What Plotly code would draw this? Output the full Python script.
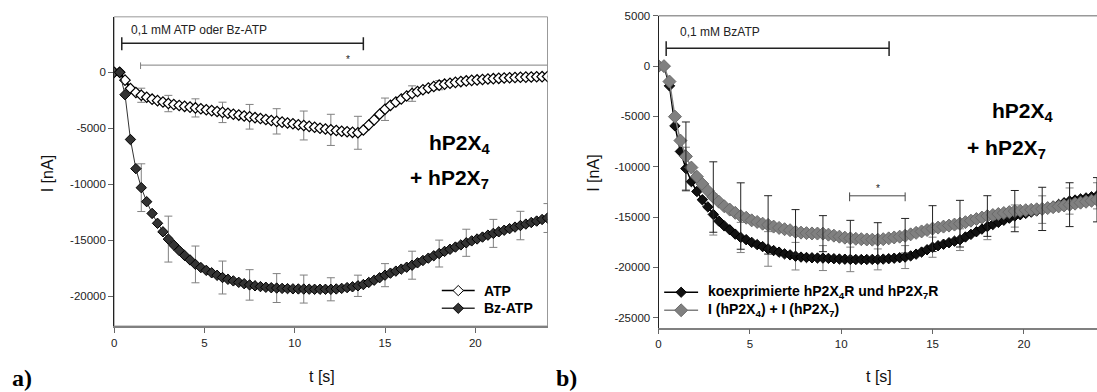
import plotly.graph_objects as go

# ---------------- data ----------------
t = [0.0, 0.3, 0.6, 0.9, 1.2, 1.5, 1.8, 2.1, 2.4, 2.7,
     3.0, 3.3, 3.6, 3.9, 4.2, 4.5, 4.8, 5.1, 5.4, 5.7,
     6.0, 6.3, 6.6, 6.9, 7.2, 7.5, 7.8, 8.1, 8.4, 8.7,
     9.0, 9.3, 9.6, 9.9, 10.2, 10.5, 10.8, 11.1, 11.4, 11.7,
     12.0, 12.3, 12.6, 12.9, 13.2, 13.5, 13.8, 14.1, 14.4, 14.7,
     15.0, 15.3, 15.6, 15.9, 16.2, 16.5, 16.8, 17.1, 17.4, 17.7,
     18.0, 18.3, 18.6, 18.9, 19.2, 19.5, 19.8, 20.1, 20.4, 20.7,
     21.0, 21.3, 21.6, 21.9, 22.2, 22.5, 22.8, 23.1, 23.4, 23.7,
     24.0]

# panel a)
atp = [0, 0, -700, -1450, -1800, -2050, -2230, -2400, -2530, -2650,
       -2790, -2880, -2960, -3040, -3110, -3180, -3260, -3340, -3420, -3500,
       -3580, -3660, -3740, -3820, -3900, -3970, -4050, -4130, -4210, -4300,
       -4380, -4450, -4530, -4600, -4680, -4750, -4830, -4910, -4990, -5060,
       -5140, -5200, -5260, -5310, -5360, -5400, -5150, -4700, -4250, -3750,
       -3300, -2950, -2650, -2380, -2120, -1900, -1720, -1560, -1410, -1270,
       -1150, -1060, -980, -900, -830, -770, -720, -680, -640, -600,
       -570, -540, -510, -490, -470, -450, -430, -420, -400, -390,
       -380]
atp_err = [630, 730, 810, 910, 1100, 1130, 1290, 1390, 1470, 1000, 690, 410, 250, 200, 180, 170]

bzatp = [0, 0, -2000, -6000, -8600, -10300, -11550, -12600, -13480, -14240,
         -14890, -15420, -15910, -16350, -16750, -17150, -17430, -17680, -17900, -18120,
         -18320, -18480, -18620, -18750, -18870, -18980, -19060, -19130, -19190, -19230,
         -19260, -19290, -19310, -19330, -19340, -19350, -19360, -19370, -19370, -19370,
         -19370, -19340, -19290, -19220, -19150, -19060, -18950, -18760, -18560, -18340,
         -18110, -17930, -17750, -17570, -17400, -17220, -17010, -16800, -16590, -16380,
         -16180, -15990, -15800, -15600, -15410, -15220, -15050, -14880, -14710, -14540,
         -14380, -14240, -14100, -13960, -13820, -13680, -13550, -13410, -13280, -13140,
         -13010]
bzatp_err = [2130, 2050, 1640, 1470, 1360, 1290, 1250, 1030, 950, 1030, 1250, 1200, 1210, 1250, 1270, 1290]

# panel b)
koexp = [0, 0, -1960, -5940, -8480, -10180, -11480, -12460, -13280, -13990,
         -14740, -15390, -15880, -16270, -16700, -17030, -17250, -17520, -17740, -17940,
         -18170, -18330, -18490, -18660, -18760, -18890, -18980, -19020, -19050, -19070,
         -19080, -19110, -19140, -19170, -19190, -19210, -19220, -19220, -19220, -19210,
         -19210, -19180, -19140, -19090, -19040, -18980, -18860, -18690, -18480, -18250,
         -18000, -17850, -17700, -17550, -17400, -17250, -16980, -16720, -16460, -16200,
         -15950, -15740, -15530, -15320, -15110, -14900, -14770, -14640, -14510, -14390,
         -14260, -14090, -13920, -13750, -13580, -13410, -13310, -13200, -13100, -12990,
         -12890]
koexp_err = [2120, 2050, 1500, 1720, 1370, 1240, 1220, 1040, 1140, 1000, 1080, 1300, 1100, 1370, 1300, 1300]

summe = [0, 0, -1530, -5020, -7400, -8970, -10080, -10990, -11710, -12390,
         -13010, -13470, -13930, -14260, -14580, -14900, -15070, -15330, -15490, -15660,
         -15780, -15950, -16080, -16210, -16310, -16470, -16550, -16600, -16630, -16640,
         -16650, -16750, -16850, -16950, -17050, -17120, -17160, -17200, -17230, -17250,
         -17250, -17200, -17120, -17030, -16950, -16860, -16720, -16570, -16430, -16290,
         -16150, -16050, -15950, -15850, -15750, -15660, -15510, -15360, -15200, -15050,
         -14900, -14800, -14700, -14600, -14510, -14410, -14370, -14320, -14280, -14230,
         -14190, -14110, -14020, -13940, -13850, -13770, -13670, -13570, -13480, -13380,
         -13280]
summe_err = [3420, 3500, 3300, 2900, 2210, 1790, 1790, 1690, 1720, 2280, 2320, 2020, 2050, 2150, 2180, 2200]

ERR_STEP = 5  # error bars on every 5th sample

x_ticks = [0, 5, 10, 15, 20]
y_ticks_a = [0, -5000, -10000, -15000, -20000]
y_ticks_b = [5000, 0, -5000, -10000, -15000, -20000, -25000]

legend_a = ["ATP", "Bz-ATP"]
legend_b = ["koexprimierte hP2X<sub>4</sub>R und hP2X<sub>7</sub>R",
            "I (hP2X<sub>4</sub>) + I (hP2X<sub>7</sub>)"]

# stimulation / significance bars (time in s)
stim_a = (0.42, 13.8)
sig_a = (1.46, 24.0)
stim_b = (0.42, 12.62)
sig_b = (10.46, 13.5)

FONT = "Arial, Liberation Sans, sans-serif"
W, H = 1097, 392
px = lambda v: v / W
py = lambda v: 1 - v / H

fig = go.Figure()


def err_trace(x, y, err, color, xa, ya):
    return go.Scatter(
        x=x[ERR_STEP::ERR_STEP], y=y[ERR_STEP::ERR_STEP], mode="markers",
        marker=dict(size=1, color="rgba(0,0,0,0)"),
        error_y=dict(type="data", array=err, color=color, thickness=1, width=4),
        showlegend=False, hoverinfo="skip", xaxis=xa, yaxis=ya)


STY = {
    "atp": dict(line=dict(color="#000", width=2.5),
                marker=dict(symbol="diamond", size=8, color="white",
                            line=dict(color="#000", width=1.2))),
    "bz": dict(line=dict(color="#333", width=1),
               marker=dict(symbol="diamond", size=8, color="#333",
                           line=dict(color="#000", width=1))),
    "ko": dict(line=dict(color="#000", width=1.5),
               marker=dict(symbol="diamond", size=8, color="#111",
                           line=dict(color="#000", width=1))),
    "sum": dict(line=dict(color="#808080", width=1.5),
                marker=dict(symbol="diamond", size=10, color="#808080",
                            line=dict(color="#6a6a6a", width=1))),
}

# panel a
fig.add_trace(err_trace(t, atp, atp_err, "#808080", "x", "y"))
fig.add_trace(err_trace(t, bzatp, bzatp_err, "#808080", "x", "y"))
fig.add_trace(go.Scatter(x=t, y=atp, name=legend_a[0], mode="lines+markers",
                         xaxis="x", yaxis="y", showlegend=False, **STY["atp"]))
fig.add_trace(go.Scatter(x=t, y=bzatp, name=legend_a[1], mode="lines+markers",
                         xaxis="x", yaxis="y", showlegend=False, **STY["bz"]))

# panel b
fig.add_trace(err_trace(t, koexp, koexp_err, "#808080", "x2", "y2"))
fig.add_trace(go.Scatter(x=t, y=koexp, name=legend_b[0], mode="lines+markers",
                         xaxis="x2", yaxis="y2", showlegend=False, **STY["ko"]))
fig.add_trace(go.Scatter(x=t, y=summe, name=legend_b[1], mode="lines+markers",
                         xaxis="x2", yaxis="y2", showlegend=False, **STY["sum"]))
fig.add_trace(err_trace(t, summe, summe_err, "#222", "x2", "y2"))

axis_common = dict(showgrid=False, zeroline=False, ticks="outside", ticklen=5,
                   tickcolor="#666", tickfont=dict(family=FONT, size=11.5, color="#222"),
                   showline=True)

fig.update_layout(
    width=W, height=H, margin=dict(l=0, r=0, t=0, b=0),
    paper_bgcolor="white", plot_bgcolor="white", showlegend=False,
    xaxis=dict(domain=[px(111.5), px(546)], range=[0, 24], tickvals=x_ticks,
               ticktext=[str(v) for v in x_ticks], anchor="y",
               linecolor="#808080", linewidth=1.5, **axis_common),
    yaxis=dict(domain=[py(325), py(11)], range=[-22650, 4950], tickvals=y_ticks_a,
               ticktext=[str(v) for v in y_ticks_a], anchor="x",
               linecolor="#222", linewidth=1, **axis_common),
    xaxis2=dict(domain=[px(657.3), 1.0], range=[0, 24], tickvals=x_ticks,
                ticktext=[str(v) for v in x_ticks], anchor="y2",
                linecolor="#808080", linewidth=1.5, **axis_common),
    yaxis2=dict(domain=[py(326.7), py(10)], range=[-26000, 5000], tickvals=y_ticks_b,
                ticktext=[str(v) for v in y_ticks_b], anchor="x2",
                linecolor="#222", linewidth=1, **axis_common),
)

shapes = []
# frames
shapes.append(dict(type="rect", xref="x domain", yref="y domain", x0=0, x1=1, y0=0, y1=1,
                   line=dict(color="#999", width=1), layer="below"))
shapes.append(dict(type="line", xref="x2 domain", yref="y2 domain", x0=0, x1=1, y0=1, y1=1,
                   line=dict(color="#999", width=1.5), layer="below"))


def bracket(xref, yref, x0, x1, y, cap0, cap1, color, width, right_cap=True):
    out = [dict(type="line", xref=xref, yref=yref, x0=x0, x1=x1, y0=y, y1=y,
                line=dict(color=color, width=width)),
           dict(type="line", xref=xref, yref=yref, x0=x0, x1=x0, y0=cap0, y1=cap1,
                line=dict(color=color, width=width))]
    if right_cap:
        out.append(dict(type="line", xref=xref, yref=yref, x0=x1, x1=x1, y0=cap0, y1=cap1,
                        line=dict(color=color, width=width)))
    return out


shapes += bracket("x", "y", stim_a[0], stim_a[1], 2600, 3130, 1960, "#222", 1.5)
shapes += bracket("x", "y", sig_a[0], sig_a[1], 640, 880, 290, "#808080", 1, right_cap=False)
shapes += bracket("x2", "y2", stim_b[0], stim_b[1], 1790, 2475, 1010, "#222", 1.5)
shapes += bracket("x2", "y2", sig_b[0], sig_b[1], -12890, -12550, -13430, "#444", 1)

ann = []


def A(text, x, y, xref="paper", yref="paper", size=12, weight="normal", family=FONT,
      xanchor="left", yanchor="middle", angle=0, color="#222"):
    ann.append(dict(text=text, x=x, y=y, xref=xref, yref=yref, showarrow=False,
                    xanchor=xanchor, yanchor=yanchor, textangle=angle,
                    font=dict(family=family, size=size, color=color, weight=weight)))


# manual legends (sample line + diamond + label), positions in pixels
def legend_entry(x0, x1, y, sty, text, text_x):
    lc = sty["line"]["color"]
    shapes.append(dict(type="line", xref="paper", yref="paper", x0=px(x0), x1=px(x1),
                       y0=py(y), y1=py(y), line=dict(color=lc, width=1.5)))
    m = sty["marker"]
    r = m["size"] / 2 * 1.3
    xc = (x0 + x1) / 2
    path = (f"M {px(xc - r)},{py(y)} L {px(xc)},{py(y - r)} "
            f"L {px(xc + r)},{py(y)} L {px(xc)},{py(y + r)} Z")
    shapes.append(dict(type="path", xref="paper", yref="paper", path=path,
                       fillcolor=m["color"], line=dict(color=m["line"]["color"], width=1)))
    A(text, px(text_x), py(y), size=14, weight="bold", color="#000")


legend_entry(440, 473, 289, STY["atp"], legend_a[0], 480)
legend_entry(440, 473, 307, STY["bz"], legend_a[1], 480)
legend_entry(663, 697, 290.7, STY["ko"], legend_b[0], 705)
legend_entry(663, 697, 309, STY["sum"], legend_b[1], 705)

A("0,1 mM ATP oder Bz-ATP", 0.8, 3750, "x", "y", size=12)
A("*", 12.94, 1150, "x", "y", size=10, xanchor="center")
A("0,1 mM BzATP", 1.06, 3400, "x2", "y2", size=12)
A("*", 12.03, -12150, "x2", "y2", size=10, xanchor="center")

A("hP2X<sub>4</sub>", px(425), py(140), size=21, weight="bold", color="#000")
A("+ hP2X<sub>7</sub>", px(406), py(176), size=21, weight="bold", color="#000")
A("hP2X<sub>4</sub>", px(990), py(108), size=21, weight="bold", color="#000")
A("+ hP2X<sub>7</sub>", px(965), py(145), size=21, weight="bold", color="#000")

A("I [nA]", px(45), py(170), size=16, angle=-90, xanchor="center", color="#111")
A("I [nA]", px(592), py(170), size=16, angle=-90, xanchor="center", color="#111")
A("t [s]", px(320), py(376), size=16, xanchor="center", color="#111")
A("t [s]", px(878), py(376), size=16, xanchor="center", color="#111")

A("a)", px(7), py(378), size=24, weight="bold",
  family="Liberation Serif, Times New Roman, serif", color="#000")
A("b)", px(553), py(378), size=24, weight="bold",
  family="Liberation Serif, Times New Roman, serif", color="#000")

fig.update_layout(shapes=shapes, annotations=ann)

fig.write_html("out.html", config={"displayModeBar": False},
               post_script="document.body.style.margin='0';document.body.style.overflow='hidden';")
